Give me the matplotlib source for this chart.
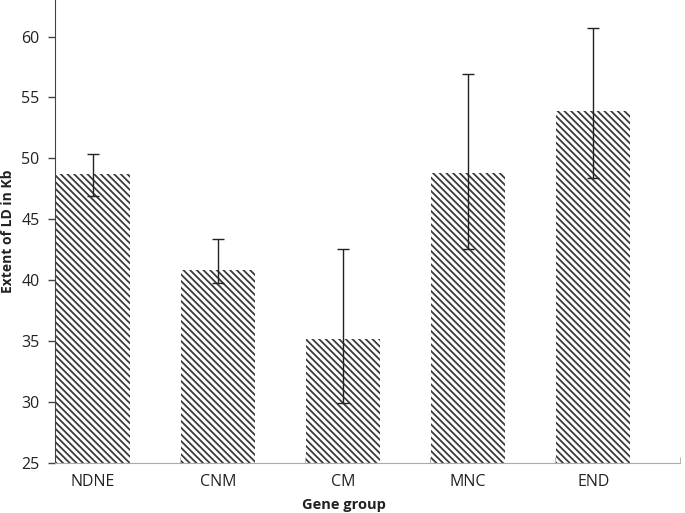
import matplotlib
matplotlib.use('Agg')
import matplotlib.pyplot as plt
import numpy as np

groups = ['NDNE', 'CNM', 'CM', 'MNC', 'END']
ld_extent = [48.7, 40.8, 35.2, 48.8, 53.9]
err_upper = [50.4, 43.4, 42.6, 56.9, 60.7]
err_lower = [46.9, 39.8, 29.9, 42.6, 48.4]

plt.rcParams['font.family'] = ['Open Sans', 'DejaVu Sans']
plt.rcParams['hatch.linewidth'] = 1.3

fig = plt.figure(figsize=(6.85, 5.13), dpi=100)
ax = fig.add_axes([0.080, 0.0975, 0.913, 0.9025])

x = np.arange(len(groups))
vals = np.array(ld_extent)
yerr = [vals - np.array(err_lower), np.array(err_upper) - vals]

ax.bar(x + 0.01, vals - 25, bottom=25, width=0.59, align='edge',
       color='white', edgecolor='#3a3a3a', linewidth=0, hatch='\\' * 5)
ax.errorbar(x + 0.305, vals, yerr=yerr, fmt='none', ecolor='#222222',
            elinewidth=1.0, capsize=4, capthick=1.0)

ax.set_xlim(0, 5)
ax.set_ylim(25, 63)
ax.set_yticks(range(25, 61, 5))
ax.set_xticks(x + 0.305)
ax.set_xticklabels(groups)
ax.set_xticks(range(0, 6), minor=True)

ax.tick_params(axis='y', direction='out', length=5, width=1, color='#444444',
               labelsize=11.5, labelcolor='#222222', pad=6)
ax.tick_params(axis='x', which='major', length=0, labelsize=11.5,
               labelcolor='#222222', pad=8)
ax.tick_params(axis='x', which='minor', direction='in', length=4,
               color='#aaaaaa')

for s in ['top', 'right']:
    ax.spines[s].set_visible(False)
ax.spines['left'].set_color('#444444')
ax.spines['bottom'].set_color('#aaaaaa')

ax.set_xlabel('Gene group', fontsize=10.5, fontweight='bold', color='#222222')
ax.xaxis.set_label_coords(0.462, -0.075)
ax.set_ylabel('Extent of LD in Kb', fontsize=10, fontweight='bold',
              color='#222222')
ax.yaxis.set_label_coords(-0.063, 0.5)

fig.savefig('out.png', dpi=100)
